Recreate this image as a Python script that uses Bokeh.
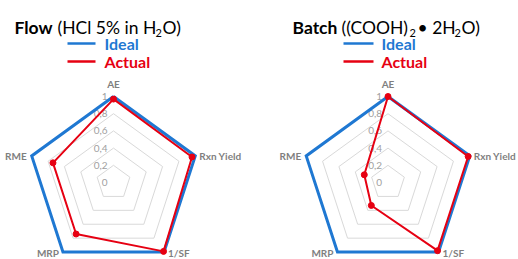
import math
from bokeh.plotting import figure
from bokeh.models import Range1d
from bokeh.core.properties import value
from bokeh.embed import file_html
from bokeh.resources import INLINE

# ---- data ----
axes_labels = ["AE", "Rxn Yield", "1/SF", "MRP", "RME"]
ideal = [1, 1, 1, 1, 1]
flow_actual = [0.97, 0.96, 0.99, 0.74, 0.74]
batch_actual = [1.0, 0.98, 0.98, 0.33, 0.29]
tick_values = [1, 0.8, 0.6, 0.4, 0.2, 0]
tick_labels = ["1", "0,8", "0,6", "0,4", "0,2", "0"]
grid_levels = [0.2, 0.4, 0.6, 0.8]

BLUE = "#1F78D2"
RED = "#E60012"
GRAY_TXT = "#7F7F7F"
TICK_TXT = "#A0A0A0"
GRID = "#D9D9D9"
FONT = "Lato"

W, H = 518, 259
p = figure(width=W, height=H, output_backend="svg", toolbar_location=None,
           x_range=Range1d(0, W), y_range=Range1d(H, 0),
           min_border=0)
p.axis.visible = False
p.grid.visible = False
p.outline_line_color = None
p.background_fill_color = "white"
p.border_fill_color = "white"

R = 86.0
CY = 182.0
angles = [math.radians(90 - 72 * i) for i in range(5)]


def pts(cx, cy, vals):
    xs = [cx + R * v * math.cos(a) for v, a in zip(vals, angles)]
    ys = [cy - R * v * math.sin(a) for v, a in zip(vals, angles)]
    return xs, ys


def radar(cx, actual):
    # grid rings
    for g in grid_levels:
        xs, ys = pts(cx, CY, [g] * 5)
        p.line(xs + xs[:1], ys + ys[:1], line_color=GRID, line_width=1)
    # tick labels
    p.text(x=[cx - 6] * len(tick_values), y=[CY - R * t for t in tick_values],
           text=tick_labels, text_align="right", text_baseline="middle",
           text_font=value(FONT), text_font_size="10px", text_color=TICK_TXT)
    # ideal
    xs, ys = pts(cx, CY, ideal)
    p.line(xs + xs[:1], ys + ys[:1], line_color=BLUE, line_width=3,
           line_join="miter")
    # actual
    xs, ys = pts(cx, CY, actual)
    p.line(xs + xs[:1], ys + ys[:1], line_color=RED, line_width=2)
    p.scatter(xs, ys, size=6, fill_color=RED, line_color=RED)
    # category labels
    vx, vy = pts(cx, CY, ideal)
    lx = [vx[0], vx[1] + 4, vx[2] + 4, vx[3] - 4, vx[4] - 5]
    ly = [vy[0] - 13, vy[1], vy[2] + 1, vy[3] + 1, vy[4]]
    al = ["center", "left", "left", "right", "right"]
    for x, y, t, a in zip(lx, ly, axes_labels, al):
        p.text(x=[x], y=[y], text=[t], text_align=a, text_baseline="middle",
               text_font=value(FONT), text_font_size="10px",
               text_font_style="bold", text_color=GRAY_TXT)


def legend(x0, x1, tx, y1, y2):
    p.line([x0, x1], [y1, y1], line_color=BLUE, line_width=2.5)
    p.line([x0, x1], [y2, y2], line_color=RED, line_width=2.5)
    p.text(x=[tx], y=[y1], text=["Ideal"], text_baseline="middle",
           text_font=value(FONT), text_font_size="16px",
           text_font_style="bold", text_color=BLUE)
    p.text(x=[tx], y=[y2], text=["Actual"], text_baseline="middle",
           text_font=value(FONT), text_font_size="16px",
           text_font_style="bold", text_color=RED)


def txt(x, y, t, size="17.5px", style="normal"):
    p.text(x=[x], y=[y], text=[t], text_baseline="alphabetic",
           text_font=value(FONT), text_font_size=size,
           text_font_style=style, text_color="black")


radar(113, flow_actual)
radar(387.5, batch_actual)
legend(67, 95, 104, 43, 61)
legend(343, 373, 381, 43, 61)

# titles
TB = 27
SUB = 5
txt(14, TB, "Flow", style="bold")
txt(57, TB, "(HCl 5% in H")
txt(155, TB + SUB, "2", size="11px")
txt(162, TB, "O)")

txt(292, TB, "Batch", style="bold")
txt(341, TB, "((COOH)")
txt(409, TB + SUB, "2", size="11px")
txt(417, TB, "\u2022 2H")
txt(454, TB + SUB, "2", size="11px")
txt(461, TB, "O)")

open("out.html", "w").write(file_html(p, INLINE))
